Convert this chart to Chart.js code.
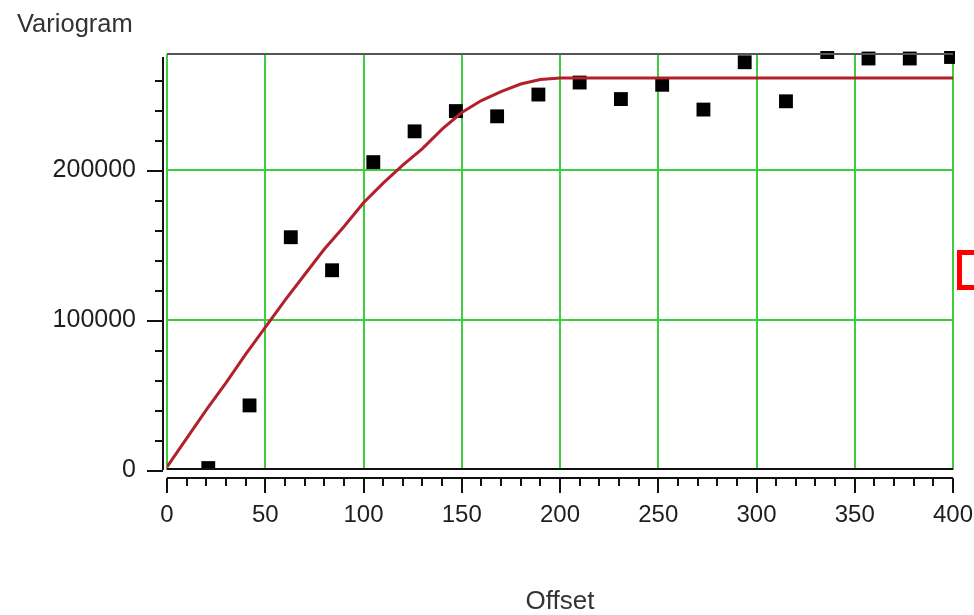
<!DOCTYPE html>
<html>
<head>
<meta charset="utf-8">
<script src="https://cdn.jsdelivr.net/npm/chart.js@4/dist/chart.umd.min.js"></script>
<style>
  html, body { margin: 0; padding: 0; background: #fff; }
  #wrap { width: 974px; height: 615px; }
</style>
</head>
<body>
<div id="wrap"><canvas id="vario" width="974" height="615"></canvas></div>
<script>
// experimental variogram (lag, value)
const lagX = [21, 42, 63, 84, 105, 126, 147, 168, 189, 210, 231, 252, 273, 294, 315, 336, 357, 378, 399];
const gammaY = [1300, 43000, 155000, 133000, 205000, 225500, 239000, 235500, 250000, 258000, 247000, 256500, 240000, 271500, 245500, 278300, 274000, 274000, 275000];

// fitted model curve
const modelX = [0, 10, 20, 30, 40, 50, 60, 70, 80, 90, 100, 110, 120, 130, 140, 150, 160, 170, 180, 190, 200, 400];
const modelY = [2000, 21000, 40000, 58000, 77000, 95000, 113000, 130000, 147000, 162000, 178000, 191000, 203000, 214000, 227000, 238000, 246000, 252000, 257000, 260000, 261000, 261000];

const xTicks = [0, 50, 100, 150, 200, 250, 300, 350, 400];
const yTicks = [0, 100000, 200000];

const GREEN = '#3fcc3f';
const INK = '#1e1e1e';
const FONT = 'Liberation Sans, Arial, sans-serif';

// axes drawn offset from the plot box, like the original
const axisDecor = {
	id: 'axisDecor',
	afterDatasetsDraw(chart) {
		const ctx = chart.ctx;
		const a = chart.chartArea;
		const xs = chart.scales.x, ys = chart.scales.y;
		ctx.save();
		// plot box top + bottom
		ctx.lineWidth = 2;
		ctx.strokeStyle = '#555';
		ctx.beginPath();
		ctx.moveTo(a.left, a.top); ctx.lineTo(a.right, a.top);
		ctx.stroke();
		ctx.strokeStyle = '#111';
		ctx.beginPath();
		ctx.moveTo(a.left, a.bottom - 1); ctx.lineTo(a.right, a.bottom - 1);
		ctx.stroke();

		// y axis
		const yx = a.left - 4;
		ctx.strokeStyle = '#111';
		ctx.beginPath();
		ctx.moveTo(yx, a.top + 3); ctx.lineTo(yx, a.bottom);
		for (let v = 0; v <= 260000; v += 20000) {
			const py = Math.round(ys.getPixelForValue(v)) + 1;
			const len = (v % 100000 === 0) ? 16 : 8;
			ctx.moveTo(yx, py); ctx.lineTo(yx - len, py);
		}
		ctx.stroke();

		// x axis
		const xy = a.bottom + 8;
		ctx.beginPath();
		ctx.moveTo(a.left, xy); ctx.lineTo(a.right, xy);
		for (let v = 0; v <= 400; v += 10) {
			const px = Math.round(xs.getPixelForValue(v));
			const len = (v % 50 === 0) ? 15 : 8;
			ctx.moveTo(px, xy); ctx.lineTo(px, xy + len);
		}
		ctx.stroke();

		// y axis caption
		ctx.fillStyle = '#333';
		ctx.font = '25.5px ' + FONT;
		ctx.textBaseline = 'alphabetic';
		ctx.fillText('Variogram', 17, 32);

		// red box at right edge
		ctx.strokeStyle = '#ff0000';
		ctx.lineWidth = 5;
		ctx.strokeRect(959.5, 252.5, 30, 35);
		ctx.restore();
	}
};

const ctx = document.getElementById('vario').getContext('2d');
new Chart(ctx, {
	type: 'scatter',
	data: {
		datasets: [
			{
				label: 'model',
				type: 'line',
				data: modelX.map((x, i) => ({ x: x, y: modelY[i] })),
				borderColor: '#b3202a',
				borderWidth: 3,
				pointRadius: 0,
				tension: 0,
				fill: false,
				clip: 0
			},
			{
				label: 'experimental',
				data: lagX.map((x, i) => ({ x: x, y: gammaY[i] })),
				pointStyle: 'rect',
				pointRadius: 9.8,
				pointHoverRadius: 9.8,
				backgroundColor: '#000',
				borderColor: '#000',
				borderWidth: 0,
				clip: { left: 0, top: 3, right: 2, bottom: 0 }
			}
		]
	},
	options: {
		responsive: false,
		animation: false,
		layout: { padding: { left: 0, top: 54, right: 21, bottom: 0 } },
		plugins: {
			legend: { display: false },
			tooltip: { enabled: false },
			title: { display: false }
		},
		scales: {
			x: {
				type: 'linear',
				min: 0,
				max: 400,
				afterBuildTicks: (s) => { s.ticks = xTicks.map(v => ({ value: v })); },
				afterFit: (s) => { s.height = 145; s.paddingLeft = 0; s.paddingRight = 0; },
				border: { display: false },
				grid: {
					color: GREEN,
					lineWidth: 2,
					drawTicks: false
				},
				ticks: {
					padding: 31,
					color: INK,
					font: { family: FONT, size: 24 },
					maxRotation: 0
				},
				title: {
					display: true,
					text: 'Offset',
					color: '#333',
					font: { family: FONT, size: 26, lineHeight: 1.0 },
					padding: { top: 0, bottom: 0 }
				}
			},
			y: {
				type: 'linear',
				min: 0,
				max: 277000,
				afterBuildTicks: (s) => { s.ticks = yTicks.map(v => ({ value: v })); },
				afterFit: (s) => { s.width = 167; s.paddingTop = 0; s.paddingBottom = 0; },
				border: { display: false },
				grid: {
					color: (c) => c.tick && c.tick.value === 0 ? 'rgba(0,0,0,0)' : GREEN,
					lineWidth: 2,
					drawTicks: false
				},
				ticks: {
					padding: 31,
					color: INK,
					font: { family: FONT, size: 25 },
					callback: (v) => String(v)
				}
			}
		}
	},
	plugins: [axisDecor]
});
</script>
</body>
</html>
